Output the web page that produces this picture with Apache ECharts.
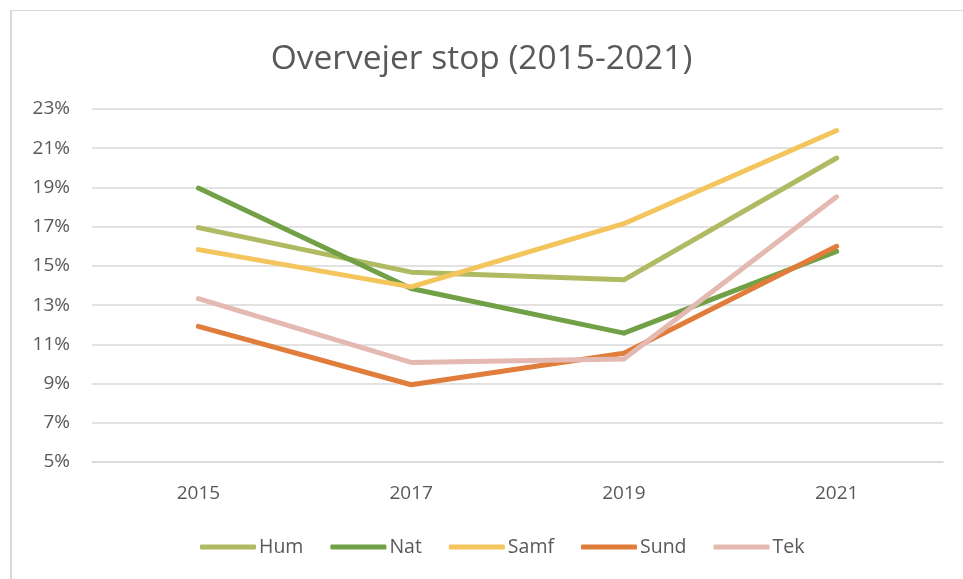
<!DOCTYPE html>
<html>
<head>
<meta charset="utf-8">
<script src="https://cdn.jsdelivr.net/npm/echarts@6/dist/echarts.min.js"></script>
<style>
  html, body { margin: 0; padding: 0; background: #fff; }
  #main { width: 963px; height: 579px; }
</style>
</head>
<body>
<div id="main"></div>
<script>
// år på x-aksen
const years = ['2015', '2017', '2019', '2021'];

// andel der overvejer stop (%)
const hum  = [16.95, 14.68, 14.29, 20.5];
const nat  = [18.97, 13.85, 11.57, 15.74];
const samf = [15.83, 13.93, 17.15, 21.9];
const sund = [11.92, 8.94, 10.55, 16.0];
const tek  = [13.33, 10.08, 10.25, 18.52];

const seriesNames = ['Hum', 'Nat', 'Samf', 'Sund', 'Tek'];
const seriesData = [hum, nat, samf, sund, tek];
const colors = ['#AFBA62', '#72A046', '#F3C55C', '#E07D3A', '#E4B9B1'];

const textColor = '#595959';
const font = '"Open Sans", "Noto Sans", sans-serif';

let chart = echarts.init(document.getElementById('main'));

let option = {
    animation: false,
    backgroundColor: '#fff',
    title: {
        text: 'Overvejer stop (2015-2021)',
        left: 'center',
        top: 37,
        textStyle: { color: textColor, fontSize: 33.5, fontWeight: 'normal', fontFamily: font }
    },
    graphic: [
        { type: 'line', shape: { x1: 11, y1: 10, x2: 11, y2: 579 }, style: { stroke: '#d9d9d9', lineWidth: 2 } },
        { type: 'line', shape: { x1: 11, y1: 10.5, x2: 963, y2: 10.5 }, style: { stroke: '#d9d9d9', lineWidth: 1 } }
    ],
    legend: {
        data: seriesNames,
        bottom: 17,
        left: 195,
        icon: 'roundRect',
        itemWidth: 56,
        itemHeight: 5,
        itemGap: 27,
        textStyle: { color: textColor, fontSize: 19.5, fontFamily: font, padding: [0, 0, 0, -2] }
    },
    grid: { left: 92, right: 20, top: 109, bottom: 117 },
    xAxis: {
        type: 'category',
        data: years,
        boundaryGap: true,
        axisLine: { lineStyle: { color: '#d9d9d9', width: 1.5 } },
        axisTick: { show: false },
        axisLabel: { color: textColor, fontSize: 19, fontFamily: font, margin: 22 }
    },
    yAxis: {
        type: 'value',
        min: 5,
        max: 23,
        interval: 2,
        axisLine: { show: false },
        axisTick: { show: false },
        axisLabel: { color: textColor, fontSize: 19, fontFamily: font, margin: 22, formatter: v => v + '%' },
        splitLine: { lineStyle: { color: '#d9d9d9', width: 1.5 } }
    },
    series: seriesNames.map((name, i) => ({
        name: name,
        type: 'line',
        data: seriesData[i],
        symbol: 'none',
        color: colors[i],
        lineStyle: { width: 5, cap: 'round', join: 'round' }
    }))
};

chart.setOption(option);
</script>
</body>
</html>
